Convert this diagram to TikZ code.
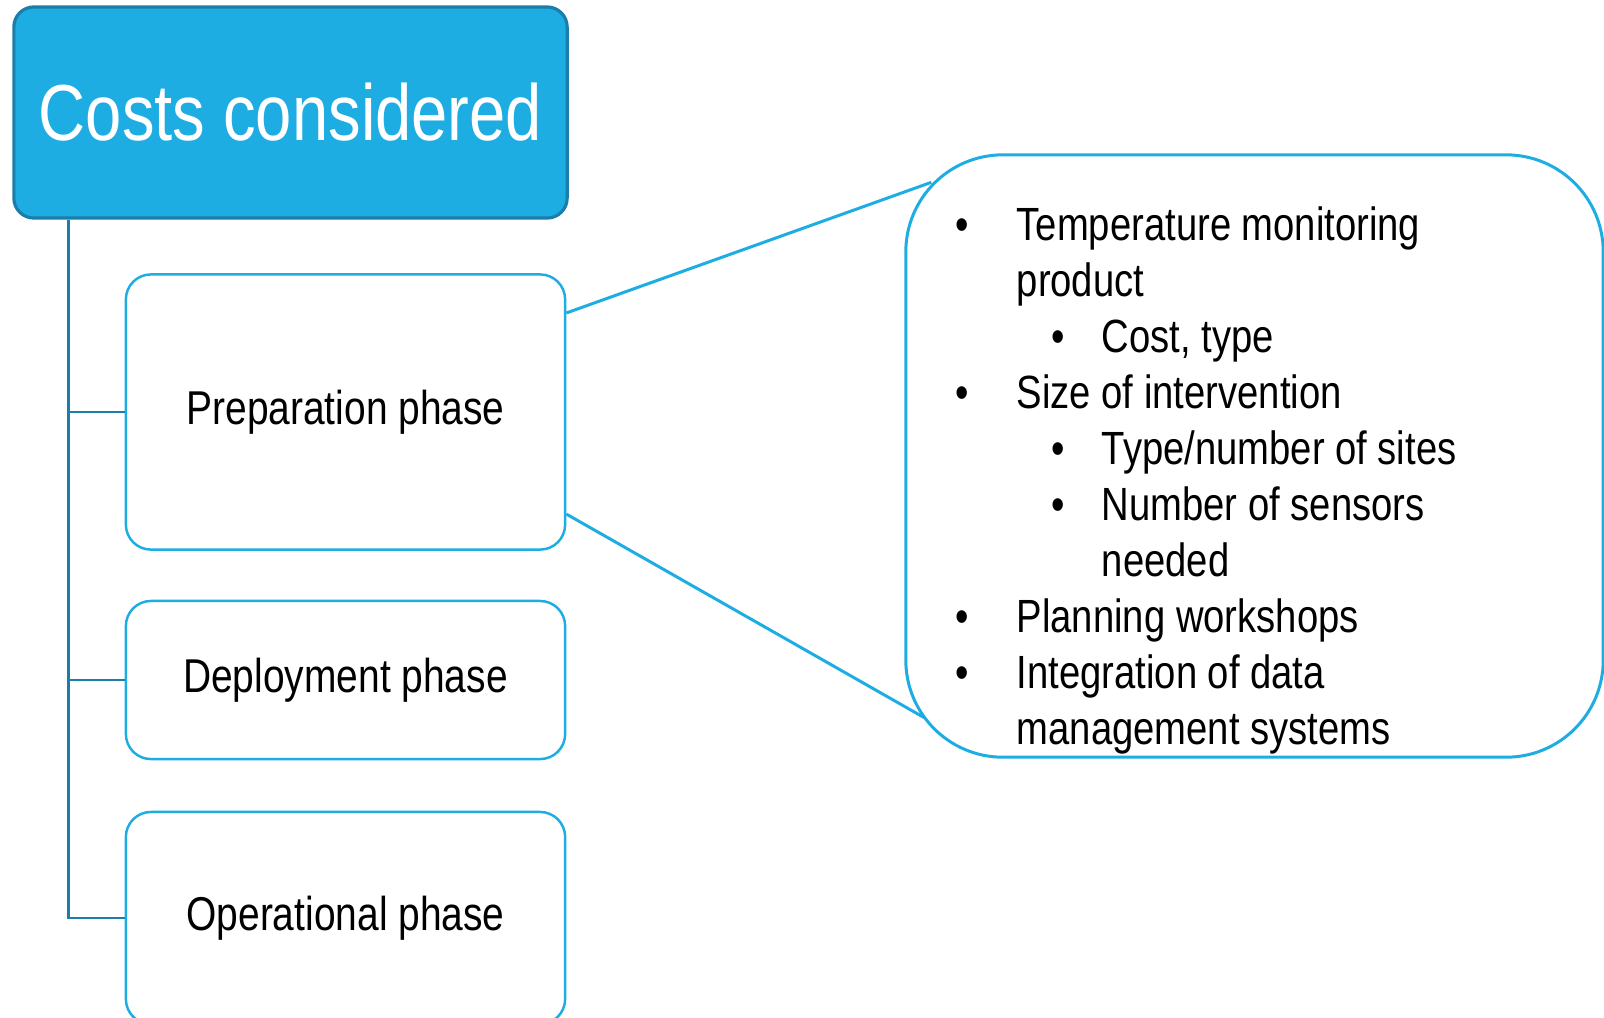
\documentclass[tikz,border=0pt]{standalone}
\usepackage{fontspec}
\setmainfont{Liberation Sans}[FakeStretch=0.82]
\usepackage{tikz}

\definecolor{cyanbox}{RGB}{30,173,227}
\definecolor{darkline}{RGB}{27,125,170}

\newcommand{\lone}{\makebox[0.61cm][l]{\textbullet}}
\newcommand{\ltwo}{\hspace*{0.96cm}\makebox[0.5cm][l]{\textbullet}}

\begin{document}
\begin{tikzpicture}[x=0.01cm,y=-0.01cm,
  phase/.style={draw=cyanbox,line width=0.7pt,rounded corners=0.25cm,
    minimum width=4.39cm,font=\fontsize{13.5}{16}\selectfont},
  trunk/.style={draw=darkline,line width=0.8pt},
  callout/.style={draw=cyanbox,line width=0.85pt}]
  \useasboundingbox (0,0) rectangle (1604,1017);

  \node[fill=cyanbox,draw=darkline,line width=0.9pt,rounded corners=0.2cm,
    minimum width=5.53cm,minimum height=2.11cm,text=white,
    font=\fontsize{22.6}{26}\selectfont] (n1) at (290.5,112.5) {Costs considered};

  \node[phase,minimum height=2.75cm] (n2) at (345.5,412) {Preparation phase};
  \node[phase,minimum height=1.58cm] (n3) at (345.5,680) {Deployment phase};
  \node[phase,minimum height=2.12cm] (n4) at (345.5,918) {Operational phase};

  \coordinate (t) at ([xshift=0.566cm]n1.south west);
  \draw[trunk] (t) |- (n4.west);
  \draw[trunk] (n2.west -| t) -- (n2.west);
  \draw[trunk] (n3.west -| t) -- (n3.west);

  \node[callout,rounded corners=0.97cm,minimum width=6.97cm,minimum height=6.02cm] (n5) at (1254.5,456) {};
  \draw[callout] ([yshift=0.99cm]n2.east) -- ([shift={(27,29)}]n5.north west);
  \draw[callout] ([yshift=-1.02cm]n2.east) -- ([shift={(20,-41)}]n5.south west);

  % base anchor sits on the last line
  \node[anchor=base west,align=left,inner sep=0pt,
    font=\fontsize{13.25}{15.9}\selectfont] (n6) at (955,744) {%
    \lone Temperature monitoring\\
    \hspace*{0.61cm}product\\
    \ltwo Cost, type\\
    \lone Size of intervention\\
    \ltwo Type/number of sites\\
    \ltwo Number of sensors\\
    \hspace*{1.46cm}needed\\
    \lone Planning workshops\\
    \lone Integration of data\\
    \hspace*{0.61cm}management systems};
\end{tikzpicture}
\end{document}
